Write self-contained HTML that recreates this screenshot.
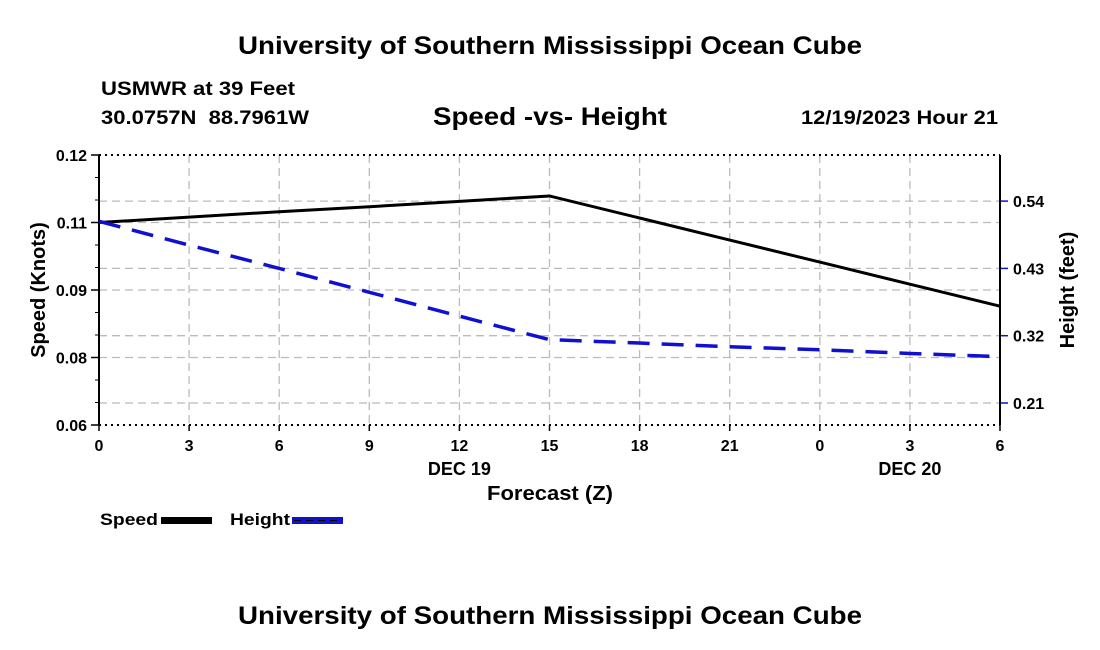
<!DOCTYPE html>
<html><head><meta charset="utf-8"><style>
html,body{margin:0;padding:0;background:#fff;width:1100px;height:650px;overflow:hidden}
svg{display:block;font-family:"Liberation Sans",Arial,sans-serif;font-weight:bold}
</style></head><body>
<svg id="chart" width="1100" height="650" viewBox="0 0 1100 650">
<text x="238" y="54" font-size="25" textLength="624" lengthAdjust="spacingAndGlyphs">University of Southern Mississippi Ocean Cube</text>
<text x="101" y="95" font-size="19" textLength="194" lengthAdjust="spacingAndGlyphs">USMWR at 39 Feet</text>
<text x="101" y="124" font-size="19" textLength="208" lengthAdjust="spacingAndGlyphs" xml:space="preserve">30.0757N  88.7961W</text>
<text x="433" y="125" font-size="25" textLength="234" lengthAdjust="spacingAndGlyphs">Speed -vs- Height</text>
<text x="801" y="124" font-size="19" textLength="197" lengthAdjust="spacingAndGlyphs">12/19/2023 Hour 21</text>
<g id="grid"></g>
<g id="axes"></g>
<g id="series"></g>
<text x="487" y="500" font-size="20" textLength="126" lengthAdjust="spacingAndGlyphs">Forecast (Z)</text>
<text transform="translate(45,290) rotate(-90)" font-size="20" text-anchor="middle">Speed (Knots)</text>
<text transform="translate(1074,290) rotate(-90)" font-size="20" text-anchor="middle">Height (feet)</text>
<g>
<g><text x="100" y="525" font-size="17" textLength="58" lengthAdjust="spacingAndGlyphs">Speed</text><rect x="161" y="517" width="51" height="7" fill="#000"/></g>
<g><text x="230" y="525" font-size="17" textLength="60" lengthAdjust="spacingAndGlyphs">Height</text><rect x="292" y="517" width="51" height="7" fill="#1010d0"/><line x1="294" y1="520.5" x2="342" y2="520.5" stroke="#000" stroke-width="1" stroke-dasharray="7,5"/></g>
</g>
<text x="238" y="624" font-size="25" textLength="624" lengthAdjust="spacingAndGlyphs">University of Southern Mississippi Ocean Cube</text>
</svg>
<script>
const hours = [0,3,6,9,12,15,18,21,24,27,30];
const xTickLabels = ["0","3","6","9","12","15","18","21","0","3","6"];
const speedValues = [0.1050,0.1062,0.1074,0.1085,0.1097,0.1109,0.1060,0.1011,0.0962,0.0913,0.0864];
const heightValues = [0.507,0.468,0.430,0.391,0.352,0.3135,0.308,0.302,0.297,0.291,0.2857];
const leftTicks = [0.06,0.075,0.09,0.105,0.12];
const leftTickLabels = ["0.06","0.08","0.09","0.11","0.12"];
const rightTicks = [0.21,0.32,0.43,0.54];
const rightTickLabels = ["0.21","0.32","0.43","0.54"];
const dayLabels = ["DEC 19","DEC 20"];
const dayLabelHours = [12,27];

const L=99,R=1000,T=155,B=425,HMAX=30;
const NS="http://www.w3.org/2000/svg";
function xs(h){return L+h/HMAX*(R-L);}
function yl(v){return B-(v-0.06)/(0.12-0.06)*(B-T);}
function yr(v){return 403-(v-0.21)/0.11*(403-335.7);}
function mk(tag,at,parent){const e=document.createElementNS(NS,tag);for(const k in at)e.setAttribute(k,at[k]);parent.appendChild(e);return e;}
const grid=document.getElementById('grid'),axes=document.getElementById('axes'),series=document.getElementById('series');
const gs={stroke:"#bbb","stroke-width":1.3,"stroke-dasharray":"8,5"};
for(let i=0;i<xTickLabels.length;i++){
  const x=xs(i*3);
  if(i>0&&i<xTickLabels.length-1){const g=mk('line',Object.assign({x1:x,x2:x,y1:T,y2:B},gs),grid);
  
  }
  mk('line',{x1:x,x2:x,y1:B,y2:B+6,stroke:"#000","stroke-width":1.5},axes);
  const t=mk('text',{x:x,y:B+26,"font-size":16,"text-anchor":"middle"},axes);t.textContent=xTickLabels[i];
  
  
}
for(let i=0;i<dayLabels.length;i++){const t=mk('text',{x:xs(dayLabelHours[i]),y:B+50,"font-size":18,"text-anchor":"middle"},axes);t.textContent=dayLabels[i];
  
  }
for(let i=0;i<leftTicks.length;i++){
  const y=yl(leftTicks[i]);
  if(i>0&&i<leftTicks.length-1){const g=mk('line',Object.assign({x1:L,x2:R,y1:y,y2:y},gs),grid);
  
  }
  mk('line',{x1:L-8,x2:L,y1:y,y2:y,stroke:"#000","stroke-width":1.5},axes);
  const t=mk('text',{x:L-12,y:y+6,"font-size":16,"text-anchor":"end"},axes);t.textContent=leftTickLabels[i];
  
  
}
for(let v=0.065;v<0.12;v+=0.005){const y=yl(v);mk('line',{x1:L-4,x2:L,y1:y,y2:y,stroke:"#000","stroke-width":1},axes);}
for(let i=0;i<rightTicks.length;i++){
  const y=yr(rightTicks[i]);
  const g=mk('line',Object.assign({x1:L,x2:R,y1:y,y2:y},gs),grid);
  
  
  mk('line',{x1:R,x2:R+8,y1:y,y2:y,stroke:"#1010d0","stroke-width":1.5},axes);
  const t=mk('text',{x:R+13,y:y+6,"font-size":16},axes);t.textContent=rightTickLabels[i];
  
  
}
mk('line',{x1:L,x2:R,y1:T,y2:T,stroke:"#000","stroke-width":2,"stroke-dasharray":"2,4"},axes);
mk('line',{x1:L,x2:R,y1:B,y2:B,stroke:"#000","stroke-width":2,"stroke-dasharray":"2,4"},axes);
mk('line',{x1:L,x2:L,y1:T,y2:B,stroke:"#000","stroke-width":2},axes);
mk('line',{x1:R,x2:R,y1:T,y2:B,stroke:"#000","stroke-width":2},axes);
const sp=mk('polyline',{points:hours.map((h,i)=>xs(h)+","+yl(speedValues[i])).join(" "),fill:"none",stroke:"#000","stroke-width":3},series);


const hp=mk('polyline',{points:hours.map((h,i)=>xs(h)+","+yr(heightValues[i])).join(" "),fill:"none",stroke:"#1010d0","stroke-width":3.5,"stroke-dasharray":"22,12"},series);


</script>
</body></html>
